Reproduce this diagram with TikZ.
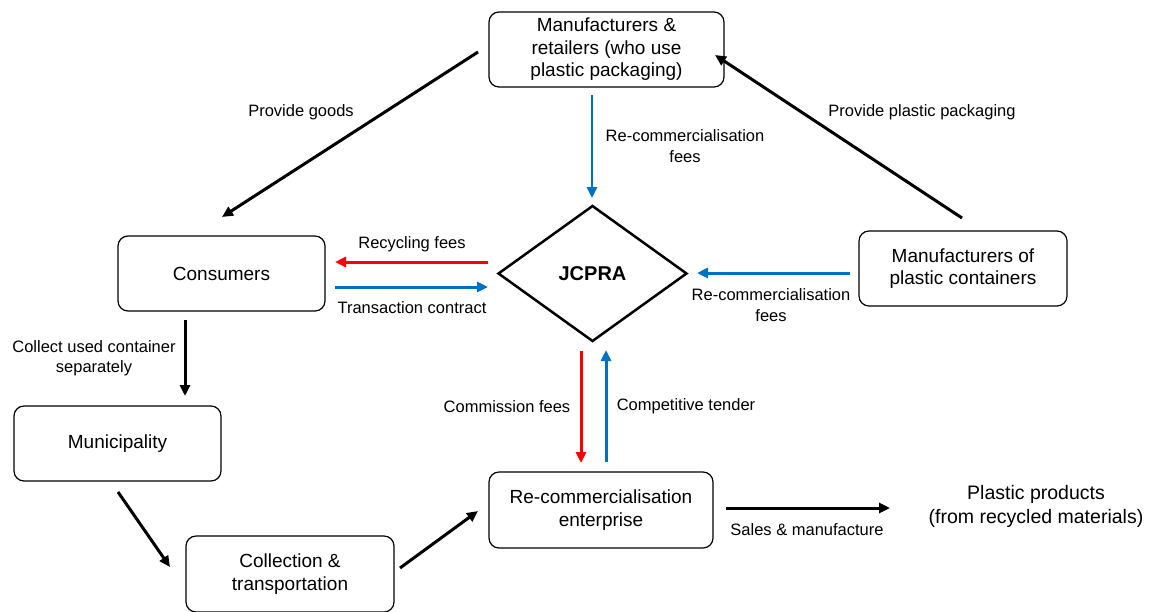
\documentclass[tikz,border=0pt]{standalone}
\usepackage{fontspec}
\setmainfont{Liberation Sans}
\usetikzlibrary{shapes.geometric,arrows.meta}
\definecolor{cred}{RGB}{255,0,0}
\definecolor{cblue}{RGB}{0,112,192}
\begin{document}
\begin{tikzpicture}[x=1pt,y=-1pt,
  box/.style={draw,rounded corners=10pt,line width=1.2pt,align=center,
    font=\fontsize{19}{22.5}\selectfont,inner sep=0pt},
  lbl/.style={align=center,font=\fontsize{16.5}{20.5}\selectfont,inner sep=0pt},
  arr/.style={line width=3pt,-{Triangle[length=11pt,width=10pt]}},
  ]
\useasboundingbox (0,0) rectangle (1150,611);
\node[box,minimum width=235pt,minimum height=75pt] (mr) at (606.5,49.5) {Manufacturers \&\\retailers (who use\\plastic packaging)};
\node[box,minimum width=207pt,minimum height=75pt] (cons) at (221.5,273.5) {Consumers};
\node[draw,diamond,line width=2.5pt,minimum width=189pt,minimum height=136pt,inner sep=0pt,
  font=\fontsize{20}{24}\selectfont\bfseries] (jc) at (592.5,273.5) {JCPRA};
\node[box,minimum width=208pt,minimum height=75pt] (mpc) at (963,268.5) {Manufacturers of\\plastic containers};
\node[box,minimum width=207pt,minimum height=75pt] (mun) at (117.5,443.5) {Municipality};
\node[box,minimum width=208pt,minimum height=76pt] (col) at (290,574) {Collection \&\\transportation};
\node[box,minimum width=224pt,minimum height=76pt] (rce) at (601,510) {Re-commercialisation\\enterprise};
\node[align=center,font=\fontsize{19.5}{24}\selectfont,inner sep=0pt] (pp) at (1036,506) {Plastic products\\(from recycled materials)};

\coordinate (a1s) at (478,52); \coordinate (a1e) at (222,217);
\draw[arr] (a1s) -- (a1e);
\node[lbl] (l1) at (301,112) {Provide goods};
\coordinate (a2s) at (962,218); \coordinate (a2e) at (715,55);
\draw[arr] (a2s) -- (a2e);
\node[lbl] (l2) at (922,112) {Provide plastic packaging};
\coordinate (a3s) at (592,95); \coordinate (a3e) at (592,198);
\draw[arr,cblue,line width=2.5pt] (a3s) -- (a3e);
\node[lbl] (l3) at (685,146) {Re-commercialisation\\fees};
\coordinate (a4s) at (488,262); \coordinate (a4e) at (335,262);
\draw[arr,cred] (a4s) -- (a4e);
\node[lbl] (l4) at (412,244) {Recycling fees};
\coordinate (a5s) at (335,287); \coordinate (a5e) at (488,287);
\draw[arr,cblue] (a5s) -- (a5e);
\node[lbl] (l5) at (412,308) {Transaction contract};
\coordinate (a6s) at (850,273); \coordinate (a6e) at (697,273);
\draw[arr,cblue] (a6s) -- (a6e);
\node[lbl] (l6) at (771,305) {Re-commercialisation\\fees};
\coordinate (a7s) at (581,351); \coordinate (a7e) at (581,463);
\draw[arr,cred] (a7s) -- (a7e);
\node[lbl] (l7) at (507,407) {Commission fees};
\coordinate (a8s) at (606,462); \coordinate (a8e) at (606,350);
\draw[arr,cblue] (a8s) -- (a8e);
\node[lbl] (l8) at (686,406) {Competitive tender};
\coordinate (a9s) at (185,320); \coordinate (a9e) at (185,396);
\draw[arr] (a9s) -- (a9e);
\node[lbl] (l9) at (94,358) {Collect used container\\separately};
\coordinate (a10s) at (118,492); \coordinate (a10e) at (170,567);
\draw[arr] (a10s) -- (a10e);
\coordinate (a11s) at (400,568); \coordinate (a11e) at (478,511);
\draw[arr] (a11s) -- (a11e);
\coordinate (a12s) at (726,508); \coordinate (a12e) at (890,508);
\draw[arr] (a12s) -- (a12e);
\node[lbl] (l12) at (807,530) {Sales \& manufacture};
\end{tikzpicture}
\end{document}
